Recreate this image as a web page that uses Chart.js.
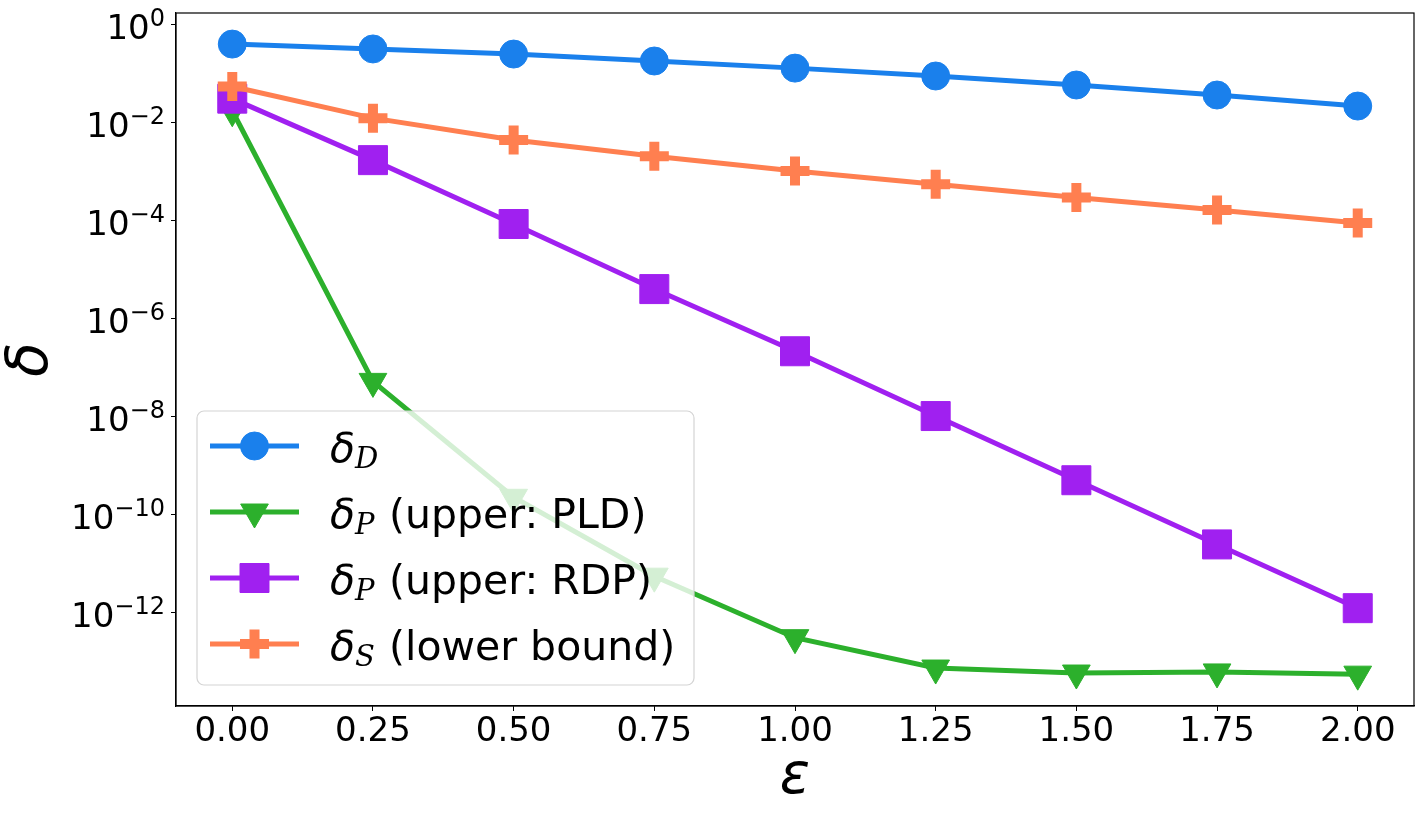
<!DOCTYPE html>
<html>
<head>
<meta charset="utf-8">
<script src="https://cdn.jsdelivr.net/npm/chart.js@4/dist/chart.umd.min.js"></script>
<style>
  html, body { margin: 0; padding: 0; background: #fff; }
  canvas { display: block; }
</style>
</head>
<body>
<canvas id="chart" width="1425" height="819"></canvas>
<script>
// values (log y axis)
const epsValues = [0, 0.25, 0.5, 0.75, 1.0, 1.25, 1.5, 1.75, 2.0]
const deltaD = [0.39, 0.31, 0.244, 0.176, 0.126, 0.087, 0.057, 0.0356, 0.0212]
const deltaPLD = [0.017, 5.1e-8, 2.2e-10, 5.4e-12, 3.0e-13, 7.2e-14, 5.7e-14, 6.0e-14, 5.4e-14]
const deltaRDP = [0.030, 1.67e-3, 8.3e-5, 3.9e-6, 2.1e-7, 1.0e-8, 4.9e-10, 2.4e-11, 1.2e-12]
const deltaS = [0.053, 0.012, 4.3e-3, 2.0e-3, 1.0e-3, 5.4e-4, 2.9e-4, 1.6e-4, 8.7e-5]

const xTicks = [0, 0.25, 0.5, 0.75, 1.0, 1.25, 1.5, 1.75, 2.0]
const yTickExponents = [0, -2, -4, -6, -8, -10, -12]

const legendNames = ["D", "P", "P", "S"]
const legendTexts = ["", "(upper: PLD)", "(upper: RDP)", "(lower bound)"]

const BLUE = "#1a80ec"
const GREEN = "#2cb02c"
const PURPLE = "#a020f0"
const ORANGE = "#ff7f50"

const toPoints = ys => epsValues.map((x, i) => ({x: x, y: ys[i]}))

const datasets = [
  {data: toPoints(deltaD), borderColor: BLUE, backgroundColor: BLUE,
   pointStyle: "circle", pointRadius: 14, pointBorderWidth: 1, order: 4},
  {data: toPoints(deltaPLD), borderColor: GREEN, backgroundColor: GREEN,
   pointStyle: "triangle", pointRotation: 180, pointRadius: 16, pointBorderWidth: 1, order: 3},
  {data: toPoints(deltaRDP), borderColor: PURPLE, backgroundColor: PURPLE,
   pointStyle: "rect", pointRadius: 20.5, pointBorderWidth: 1, order: 2},
  {data: toPoints(deltaS), borderColor: ORANGE, backgroundColor: ORANGE,
   pointStyle: "cross", pointRadius: 14.5, pointBorderWidth: 10, order: 1},
].map(d => Object.assign({borderWidth: 5, tension: 0, pointHoverRadius: d.pointRadius}, d))

// keep the plot box where the reference has it
function fixBox(scale, size) {
  if (scale.isHorizontal()) scale.height = size
  else scale.width = size
  scale.paddingTop = scale.paddingBottom = scale.paddingLeft = scale.paddingRight = 0
}

// frame box, y tick labels with superscripts, legend
const extras = {
  id: "extras",
  afterDatasetsDraw(chart) {
    const ctx = chart.ctx
    const a = chart.chartArea
    ctx.save()

    // legend box
    const lx = 197, ly = 411, lw = 497, lh = 274, r = 7
    ctx.beginPath()
    ctx.roundRect(lx, ly, lw, lh, r)
    ctx.fillStyle = "rgba(255,255,255,0.8)"
    ctx.fill()
    ctx.strokeStyle = "#d4d4d4"
    ctx.lineWidth = 1.2
    ctx.stroke()

    const rowY = [446, 512, 578, 644]
    chart.data.datasets.forEach((ds, i) => {
      const y = rowY[i]
      ctx.strokeStyle = ds.borderColor
      ctx.fillStyle = ds.backgroundColor
      ctx.lineWidth = 5
      ctx.beginPath()
      ctx.moveTo(210, y)
      ctx.lineTo(299, y)
      ctx.stroke()
      ctx.lineWidth = ds.pointBorderWidth
      Chart.helpers.drawPoint(ctx, {
        pointStyle: ds.pointStyle, rotation: ds.pointRotation || 0,
        radius: ds.pointRadius, borderWidth: ds.pointBorderWidth
      }, 254.5, y)

      ctx.fillStyle = "#000"
      ctx.textBaseline = "alphabetic"
      ctx.textAlign = "left"
      ctx.font = "italic 41px 'DejaVu Sans'"
      ctx.fillText("δ", 330, y + 16)
      ctx.font = "italic 29px 'DejaVu Serif'"
      ctx.fillText(legendNames[i], 355, y + 22)
      ctx.font = "41px 'DejaVu Sans'"
      ctx.fillText(legendTexts[i], 389, y + 16)
    })

    // y tick labels: 10 with superscript exponent
    const ys = chart.scales.y
    ctx.fillStyle = "#000"
    ctx.textAlign = "right"
    ctx.textBaseline = "alphabetic"
    yTickExponents.forEach(e => {
      const py = ys.getPixelForValue(Math.pow(10, e))
      const sup = e === 0 ? "0" : "\u2212" + Math.abs(e)
      ctx.font = "24px 'DejaVu Sans'"
      const w = ctx.measureText(sup).width
      ctx.fillText(sup, 165, py + 2)
      ctx.font = "34px 'DejaVu Sans'"
      ctx.fillText("10", 165 - w, py + 15)
    })

    // full frame
    ctx.strokeStyle = "#000"
    ctx.lineWidth = 1.2
    ctx.strokeRect(a.left, a.top, a.right - a.left, a.bottom - a.top)
    ctx.restore()
  }
}

const chart = new Chart("chart", {
  type: "line",
  data: {datasets: datasets},
  options: {
    responsive: false,
    animation: false,
    events: [],
    layout: {autoPadding: false, padding: {top: 13, right: 11, left: 0, bottom: 0}},
    plugins: {
      legend: {display: false},
      tooltip: {enabled: false},
    },
    scales: {
      x: {
        type: "linear",
        min: -0.1,
        max: 2.1,
        afterBuildTicks: scale => { scale.ticks = xTicks.map(v => ({value: v})) },
        afterFit: scale => fixBox(scale, 113),
        grid: {drawOnChartArea: false, drawTicks: true, tickLength: 5, color: "#000"},
        border: {display: true, color: "#000", width: 1.2},
        ticks: {
          padding: 1,
          color: "#000",
          font: {family: "DejaVu Sans", size: 34},
          maxRotation: 0,
          autoSkip: false,
          callback: value => Number(value).toFixed(2)
        },
        title: {
          display: true,
          text: "ε",
          color: "#000",
          font: {family: "DejaVu Sans", size: 56, style: "italic", lineHeight: 1},
          padding: {top: 0, bottom: 13}
        }
      },
      y: {
        type: "logarithmic",
        min: 1.21e-14,
        max: 1.68,
        afterBuildTicks: scale => { scale.ticks = yTickExponents.map(e => ({value: Math.pow(10, e)})) },
        afterFit: scale => fixBox(scale, 176),
        grid: {drawOnChartArea: false, drawTicks: true, tickLength: 5, color: "#000"},
        border: {display: true, color: "#000", width: 1.2},
        ticks: {display: false},
        title: {
          display: true,
          text: "δ",
          color: "#000",
          font: {family: "DejaVu Sans", size: 56, style: "italic", lineHeight: 1},
          padding: {top: 4, bottom: 0}
        }
      }
    }
  },
  plugins: [extras]
})
</script>
</body>
</html>
